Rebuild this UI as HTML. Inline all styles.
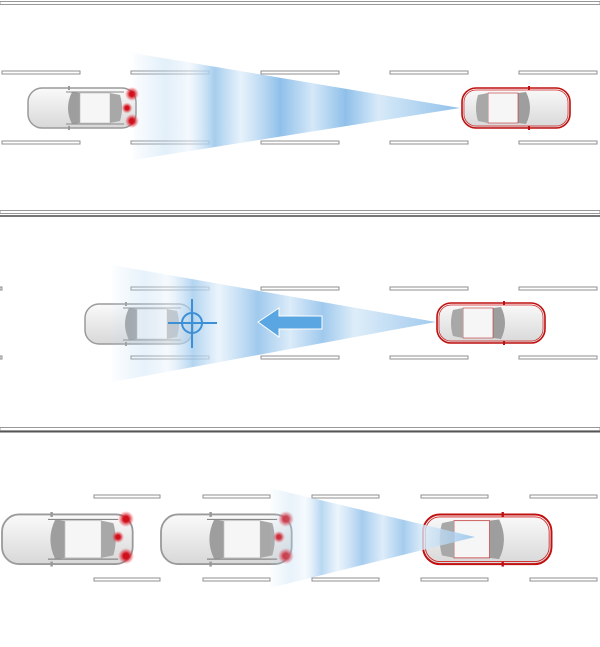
<!DOCTYPE html><html><head><style>html,body{margin:0;padding:0;background:#fff}svg{display:block}</style></head><body>
<svg width="600" height="647" viewBox="0 0 600 647" xmlns="http://www.w3.org/2000/svg">
<defs>
<linearGradient id="bm" x1="0" x2="1" y1="0" y2="0">
<stop offset="0" stop-color="#b8d8f2" stop-opacity="0.05"/>
<stop offset="0.1" stop-color="#b8d8f2" stop-opacity="0.4"/>
<stop offset="0.17" stop-color="#e8f2fb" stop-opacity="0.5"/>
<stop offset="0.25" stop-color="#9cc8ec" stop-opacity="0.9"/>
<stop offset="0.33" stop-color="#e0eefa" stop-opacity="0.8"/>
<stop offset="0.45" stop-color="#8fc0ea"/>
<stop offset="0.55" stop-color="#d5e8f8"/>
<stop offset="0.65" stop-color="#8fc0ea"/>
<stop offset="0.75" stop-color="#d8eaf8"/>
<stop offset="1" stop-color="#8fc0ea"/>
</linearGradient>
<radialGradient id="lt"><stop offset="0.35" stop-color="#d0101a"/><stop offset="1" stop-color="#f04050" stop-opacity="0"/></radialGradient>
<linearGradient id="bd" x1="0" x2="0" y1="0" y2="1"><stop offset="0" stop-color="#fafafa"/><stop offset="1" stop-color="#d8d8d8"/></linearGradient>
<g id="car">
<rect x="0" y="2" width="108" height="40" rx="14" fill="url(#bd)" stroke="#9a9a9a" stroke-width="1.5"/>
<path d="M44 6 Q36 22 44 38 L52 37 L52 7 Z" fill="#9e9e9e"/>
<rect x="52" y="7" width="30" height="30" fill="#f6f6f6" stroke="#bbb" stroke-width="0.6"/>
<path d="M82 7 L92 9 Q96 22 92 35 L82 37 Z" fill="#a8a8a8"/>
<path d="M38 6 L96 6 M38 38 L96 38" stroke="#888" stroke-width="1"/>
<rect x="40" y="0" width="2" height="4" fill="#999"/><rect x="40" y="40" width="2" height="4" fill="#999"/>
</g>
<g id="rcar">
<rect x="0" y="2" width="108" height="40" rx="14" fill="url(#bd)" stroke="#c01010" stroke-width="1.6"/>
<rect x="2" y="4" width="104" height="36" rx="12" fill="none" stroke="#d02020" stroke-width="0.7"/>
<path d="M64 6 Q72 22 64 38 L56 37 L56 7 Z" fill="#9e9e9e"/>
<rect x="26" y="7" width="30" height="30" fill="#f6f6f6" stroke="#c03030" stroke-width="0.6"/>
<path d="M26 7 L16 9 Q12 22 16 35 L26 37 Z" fill="#a8a8a8"/>
<rect x="66" y="0" width="2" height="4" fill="#c01010"/><rect x="66" y="40" width="2" height="4" fill="#c01010"/>
</g>
</defs>
<g fill="#fff" stroke="#999" stroke-width="1">
<rect x="0" y="1.5" width="600" height="3"/>
<rect x="0" y="210.5" width="600" height="3"/><rect x="0" y="215" width="600" height="2" fill="#777" stroke="none"/>
<rect x="0" y="427.5" width="600" height="3"/><rect x="0" y="431" width="600" height="1.5" fill="#555" stroke="none"/>
</g>
<g fill="#fff" stroke="#8f8f8f" stroke-width="1">
<rect x="2" y="71" width="78" height="3"/><rect x="131" y="71" width="78" height="3"/><rect x="261" y="71" width="78" height="3"/><rect x="390" y="71" width="78" height="3"/><rect x="519" y="71" width="78" height="3"/>
<rect x="2" y="141" width="78" height="3"/><rect x="131" y="141" width="78" height="3"/><rect x="261" y="141" width="78" height="3"/><rect x="390" y="141" width="78" height="3"/><rect x="519" y="141" width="78" height="3"/>
<rect x="0" y="287" width="2" height="3"/><rect x="131" y="287" width="78" height="3"/><rect x="261" y="287" width="78" height="3"/><rect x="390" y="287" width="78" height="3"/><rect x="519" y="287" width="78" height="3"/>
<rect x="0" y="356" width="2" height="3"/><rect x="131" y="356" width="78" height="3"/><rect x="261" y="356" width="78" height="3"/><rect x="390" y="356" width="78" height="3"/><rect x="519" y="356" width="78" height="3"/>
<rect x="94" y="495" width="66" height="3"/><rect x="203" y="495" width="67" height="3"/><rect x="312" y="495" width="67" height="3"/><rect x="421" y="495" width="67" height="3"/><rect x="530" y="495" width="67" height="3"/>
<rect x="94" y="578" width="66" height="3"/><rect x="203" y="578" width="67" height="3"/><rect x="312" y="578" width="67" height="3"/><rect x="421" y="578" width="67" height="3"/><rect x="530" y="578" width="67" height="3"/>
</g>
<!-- section 1 -->
<use href="#car" x="28" y="86"/>
<circle cx="132" cy="94" r="7" fill="url(#lt)"/><circle cx="127" cy="108" r="5.5" fill="url(#lt)"/><circle cx="132" cy="121" r="7" fill="url(#lt)"/>
<polygon points="133,53 460,108 133,160" fill="url(#bm)"/>
<use href="#rcar" x="462" y="86"/>
<!-- section 2 -->
<use href="#car" x="85" y="302"/>
<polygon points="112,265 436,322 112,382" fill="url(#bm)" opacity="0.85"/>
<use href="#rcar" x="437" y="301"/>
<g stroke="#3d8fd6" stroke-width="2" fill="none"><circle cx="192" cy="323" r="10"/><path d="M192 299V348M168 323H217"/></g>
<polygon points="258,322 279,308 279,316 322,316 322,329 279,329 279,337" fill="#5aa6e2" stroke="#fff" stroke-width="1"/>
<!-- section 3 -->
<g transform="translate(2,512) scale(1.21,1.24)"><use href="#car"/></g>
<g transform="translate(161,512) scale(1.21,1.24)"><use href="#car"/></g>
<circle cx="126" cy="519" r="8" fill="url(#lt)"/><circle cx="118" cy="537" r="6" fill="url(#lt)"/><circle cx="126" cy="556" r="8" fill="url(#lt)"/>
<circle cx="286" cy="519" r="8" fill="url(#lt)"/><circle cx="279" cy="537" r="6" fill="url(#lt)"/><circle cx="286" cy="556" r="8" fill="url(#lt)"/>
<g transform="translate(423,512) scale(1.19,1.24)"><use href="#rcar"/></g>
<polygon points="270,488 475,537 270,588" fill="url(#bm)" opacity="0.8"/>
</svg>
</body></html>
